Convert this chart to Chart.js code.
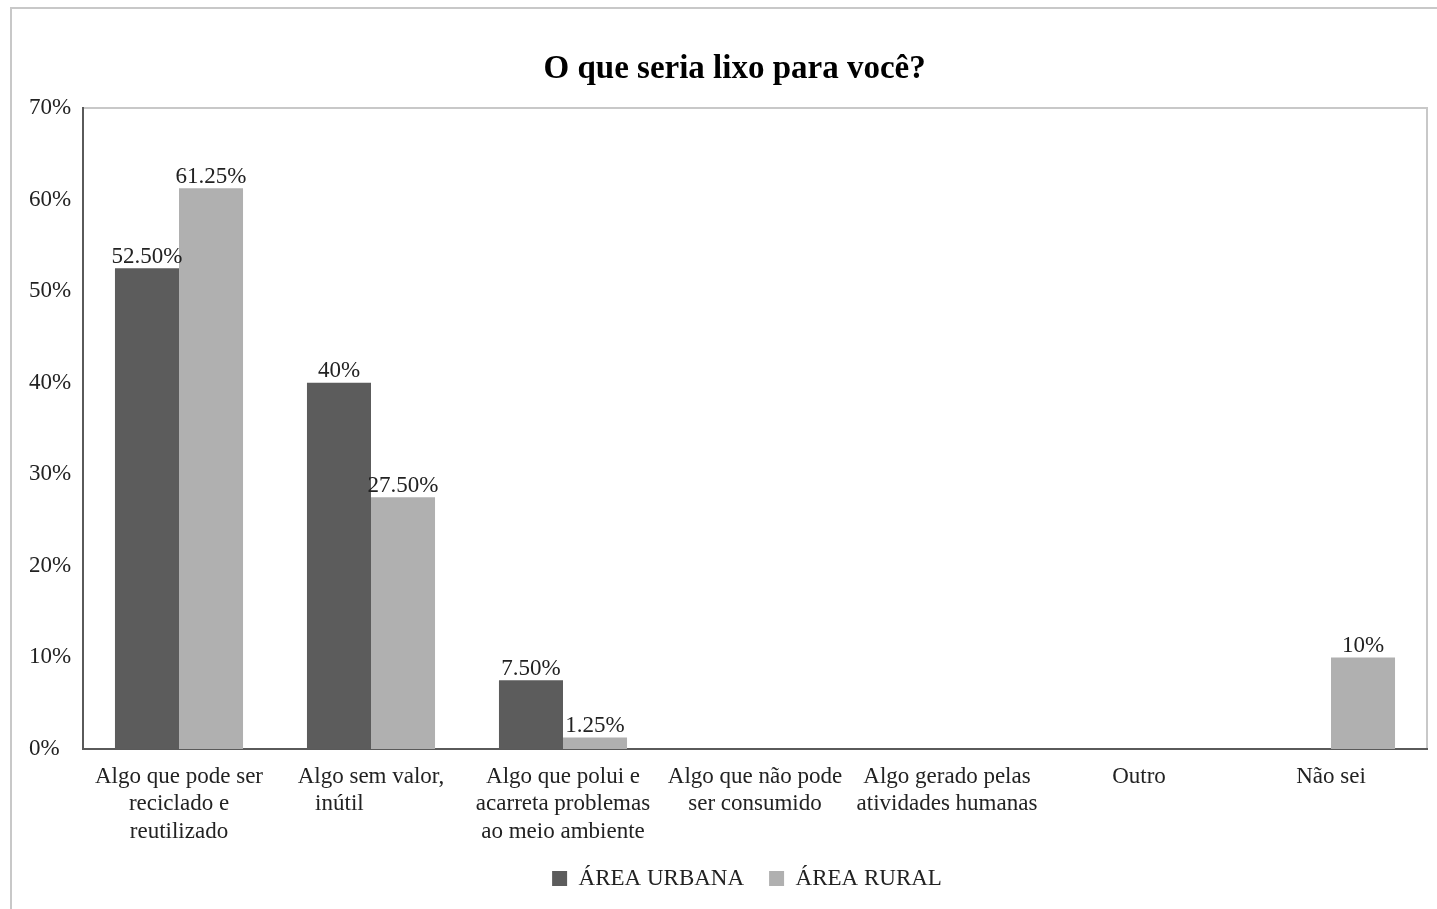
<!DOCTYPE html>
<html><head><meta charset="utf-8">
<script src="https://cdn.jsdelivr.net/npm/chart.js@4"></script>
<style>
html,body{margin:0;padding:0;background:#fff;}
#wrap{position:relative;width:1437px;height:909px;overflow:hidden;}
#frame{position:absolute;left:10px;top:7px;width:1500px;height:1000px;border-left:2px solid #c8c8c8;border-top:2px solid #c8c8c8;}
canvas{position:absolute;left:0;top:0;}
</style></head><body>
<div id="wrap"><div id="frame"></div><canvas id="c" width="1437" height="909"></canvas></div>
<script>
const categories = [
  ["Algo que pode ser","reciclado e","reutilizado"],
  ["Algo sem valor,","inútil           "],
  ["Algo que polui e","acarreta problemas","ao meio ambiente"],
  ["Algo que não pode","ser consumido"],
  ["Algo gerado pelas","atividades humanas"],
  "Outro",
  "Não sei"
];
const seriesNames = ["ÁREA URBANA","ÁREA RURAL"];
const urbana = [52.5, 40, 7.5, 0, 0, 0, 0];
const rural = [61.25, 27.5, 1.25, 0, 0, 0, 10];
const yMin = 0, yMax = 70, yStep = 10;

const FONT = "'Liberation Serif','Times New Roman',serif";
const TEXT = '#222';
const PADL = 67;

function fmt(v){ return (Number.isInteger(v) ? String(v) : v.toFixed(2)) + '%'; }

const areaBorder = {
  id:'areaBorder',
  beforeDraw(chart){
    const {ctx, chartArea:a} = chart;
    ctx.save();
    ctx.strokeStyle = '#c8c8c8';
    ctx.lineWidth = 2;
    ctx.strokeRect(a.left, a.top, a.right - a.left, a.bottom - a.top);
    ctx.restore();
  }
};
const valueLabels = {
  id:'valueLabels',
  afterDatasetsDraw(chart){
    const {ctx} = chart;
    ctx.save();
    ctx.font = "23px " + FONT;
    ctx.fillStyle = TEXT;
    ctx.textAlign = 'center';
    ctx.textBaseline = 'bottom';
    chart.data.datasets.forEach((ds, i) => {
      const meta = chart.getDatasetMeta(i);
      meta.data.forEach((el, j) => {
        const v = ds.data[j];
        if (v > 0) ctx.fillText(fmt(v), el.x, el.y);
      });
    });
    ctx.restore();
  }
};

new Chart(document.getElementById('c'), {
  type:'bar',
  data:{
    labels: categories,
    datasets:[
      {label: seriesNames[0], data: urbana, backgroundColor:'#5c5c5c'},
      {label: seriesNames[1], data: rural, backgroundColor:'#b0b0b0'}
    ]
  },
  options:{
    responsive:false,
    animation:false,
    devicePixelRatio:1,
    layout:{padding:{left:PADL, right:10, top:0, bottom:9}},
    datasets:{bar:{categoryPercentage:0.667, barPercentage:1.0}},
    scales:{
      x:{
        grid:{display:false, drawTicks:false},
        border:{display:true, color:'#5a5a5a', width:2},
        ticks:{font:{family:FONT, size:23, lineHeight:1.2}, color:TEXT, padding:14, maxRotation:0, autoSkip:false},
        afterFit(s){ s.height = 93; }
      },
      y:{
        min:yMin, max:yMax,
        grid:{display:false, drawTicks:false},
        border:{display:true, color:'#5a5a5a', width:2},
        ticks:{stepSize:yStep, callback:v => v + '%', font:{family:FONT, size:23}, color:TEXT, mirror:true, padding:-54},
        afterFit(s){ s.width = 83 - PADL; }
      }
    },
    plugins:{
      title:{display:true, text:'O que seria lixo para você?\u00a0\u00a0\u00a0', color:'#000',
        font:{family:FONT, size:33, weight:'bold', lineHeight:1.2}, padding:{top:50, bottom:18.4}},
      legend:{position:'bottom',
        labels:{boxWidth:15, boxHeight:15, padding:25, color:TEXT, font:{family:FONT, size:23}}},
      tooltip:{enabled:false}
    }
  },
  plugins:[areaBorder, valueLabels]
});
</script>
</body></html>
